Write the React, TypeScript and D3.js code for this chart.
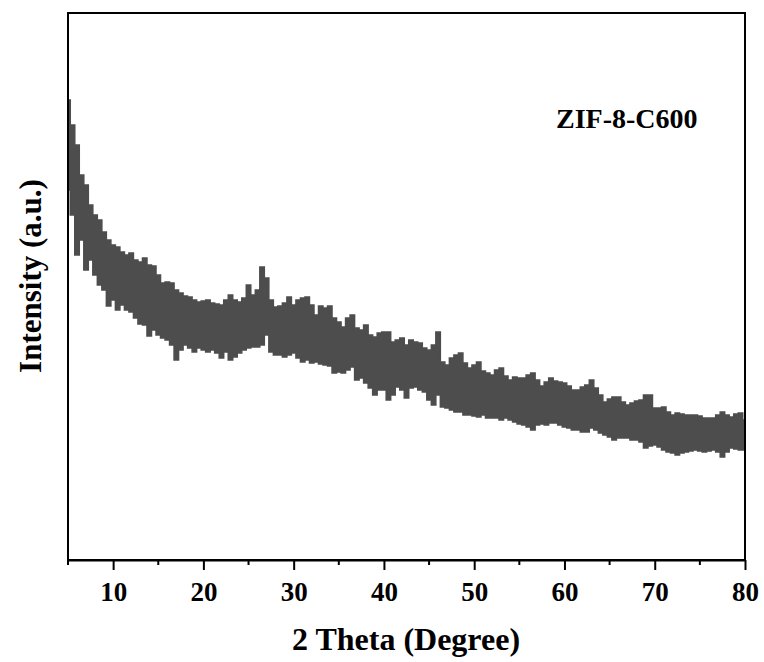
import React, { useRef, useEffect } from "react";
import * as d3 from "d3";

// sampling grid of the scan, 2θ in degrees (0.5° steps, 5 → 80)
const theta = d3.range(5, 80.001, 0.5);

// upper edge of the noisy trace (a.u.), one value per theta
const upper = [
  460, 435, 415, 385, 375, 355, 345, 340, 328, 320,
  315, 313, 308, 305, 307, 300, 298, 302, 295, 294,
  285, 277, 278, 277, 270, 267, 264, 263, 260, 258,
  259, 260, 257, 256, 255, 260, 265, 260, 258, 262,
  275, 265, 270, 293, 282, 260, 253, 254, 257, 263,
  255, 260, 262, 263, 255, 245, 254, 252, 254, 242,
  238, 233, 242, 245, 232, 230, 235, 225, 223, 227,
  228, 228, 218, 220, 222, 215, 220, 218, 217, 212,
  210, 215, 228, 198, 195, 202, 205, 207, 197, 192,
  195, 198, 189, 187, 185, 190, 192, 184, 180, 183,
  182, 182, 185, 187, 180, 174, 178, 182, 179, 178,
  177, 174, 170, 170, 173, 175, 180, 172, 165, 158,
  161, 163, 163, 158, 155, 157, 159, 160, 165, 165,
  152, 152, 153, 148, 145, 147, 146, 145, 145, 145,
  144, 142, 142, 142, 145, 148, 145, 143, 146, 147,
  140
];

// lower edge of the noisy trace (a.u.)
const lower = [
  370, 345, 305, 320, 290, 300, 285, 275, 270, 254,
  260, 250, 255, 250, 248, 242, 236, 235, 224, 230,
  225, 222, 220, 215, 200, 210, 215, 212, 208, 212,
  210, 208, 210, 207, 202, 208, 200, 203, 207, 210,
  212, 213, 213, 215, 225, 208, 205, 205, 203, 205,
  207, 202, 198, 200, 197, 198, 196, 195, 194, 187,
  188, 187, 190, 193, 180, 182, 177, 172, 165, 170,
  170, 160, 165, 173, 170, 162, 172, 173, 170, 168,
  160, 155, 165, 153, 152, 150, 148, 148, 145, 145,
  144, 143, 145, 142, 142, 142, 140, 142, 140, 138,
  136, 135, 133, 130, 135, 136, 135, 137, 137, 135,
  133, 132, 130, 130, 128, 128, 132, 130, 127, 125,
  123, 120, 122, 122, 122, 120, 120, 118, 112, 114,
  115, 113, 110, 108, 107, 105, 107, 108, 109, 110,
  109, 108, 109, 110, 108, 103, 108, 112, 111, 110,
  110
];

const xTicks = [10, 20, 30, 40, 50, 60, 70, 80];
const xMinor = [5, 15, 25, 35, 45, 55, 65, 75];
const sampleName = "ZIF-8-C600";
const xTitle = "2 Theta (Degree)";
const yTitle = "Intensity (a.u.)";

const W = 764;
const H = 662;
const margin = { top: 13, right: 19, bottom: 102, left: 68 };
const font = "'Liberation Serif', 'Times New Roman', serif";

const App = () => {
  const svgRef = useRef(null);

  useEffect(() => {
    const svg = d3.select(svgRef.current);
    svg.selectAll("*").remove();

    const x = d3
      .scaleLinear()
      .domain([5, 80])
      .range([margin.left, W - margin.right]);
    const y = d3
      .scaleLinear()
      .domain([0, 547])
      .range([H - margin.bottom, margin.top]);

    const rows = theta.map((t, i) => ({ t, hi: upper[i], lo: lower[i] }));

    const area = d3
      .area()
      .x((d) => x(d.t))
      .y0((d) => y(d.lo))
      .y1((d) => y(d.hi))
      .curve(d3.curveStep);

    svg
      .append("clipPath")
      .attr("id", "plotClip")
      .append("rect")
      .attr("x", margin.left)
      .attr("y", margin.top)
      .attr("width", W - margin.right - margin.left)
      .attr("height", H - margin.bottom - margin.top);

    svg
      .append("path")
      .datum(rows)
      .attr("clip-path", "url(#plotClip)")
      .attr("d", area)
      .attr("fill", "#4d4d4d")
      .attr("stroke", "#4d4d4d")
      .attr("stroke-width", 1.5)
      .attr("stroke-linejoin", "miter");

    // frame
    svg
      .append("rect")
      .attr("x", margin.left)
      .attr("y", margin.top)
      .attr("width", W - margin.right - margin.left)
      .attr("height", H - margin.bottom - margin.top)
      .attr("fill", "none")
      .attr("stroke", "#000")
      .attr("stroke-width", 2);

    const gx = svg
      .append("g")
      .attr("transform", `translate(0,${H - margin.bottom})`)
      .call(
        d3.axisBottom(x).tickValues(xTicks).tickSize(10).tickSizeOuter(0).tickPadding(12)
      );
    gx.select(".domain").attr("stroke-width", 2);
    gx.selectAll(".tick line").attr("stroke-width", 2);
    gx.selectAll(".tick text")
      .attr("font-family", font)
      .attr("font-weight", "bold")
      .attr("font-size", 27)
      .attr("fill", "#000");

    svg
      .append("g")
      .selectAll("line")
      .data(xMinor)
      .join("line")
      .attr("x1", (d) => x(d))
      .attr("x2", (d) => x(d))
      .attr("y1", H - margin.bottom)
      .attr("y2", H - margin.bottom + 5)
      .attr("stroke", "#000")
      .attr("stroke-width", 2);

    svg
      .append("text")
      .attr("x", 406)
      .attr("y", 650)
      .attr("text-anchor", "middle")
      .attr("font-family", font)
      .attr("font-weight", "bold")
      .attr("font-size", 32)
      .text(xTitle);

    svg
      .append("text")
      .attr("transform", `translate(41,276) rotate(-90)`)
      .attr("text-anchor", "middle")
      .attr("font-family", font)
      .attr("font-weight", "bold")
      .attr("font-size", 31)
      .text(yTitle);

    svg
      .append("text")
      .attr("x", 556)
      .attr("y", 128)
      .attr("font-family", font)
      .attr("font-weight", "bold")
      .attr("font-size", 28)
      .text(sampleName);
  }, []);

  return (
    <svg
      ref={svgRef}
      width={W}
      height={H}
      style={{ position: "absolute", left: 0, top: 0, background: "#fff" }}
      xmlns="http://www.w3.org/2000/svg"
    />
  );
};

export default App;
